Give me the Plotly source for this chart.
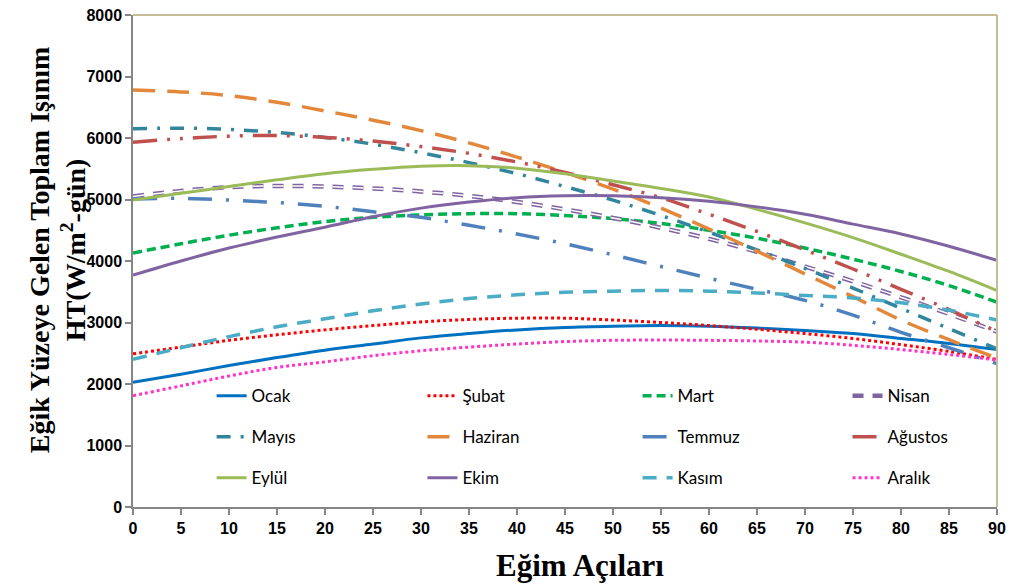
import plotly.graph_objects as go

angles = list(range(0, 91, 5))

ocak    = [2030, 2160, 2300, 2430, 2550, 2650, 2750, 2820, 2880, 2920, 2940, 2950, 2940, 2910, 2870, 2820, 2740, 2660, 2560]
subat   = [2490, 2600, 2710, 2800, 2880, 2950, 3010, 3050, 3070, 3070, 3040, 3000, 2950, 2890, 2820, 2740, 2640, 2530, 2400]
mart    = [4130, 4280, 4420, 4540, 4640, 4710, 4750, 4770, 4770, 4740, 4690, 4610, 4500, 4370, 4210, 4030, 3830, 3600, 3330]
nisan   = [5050, 5140, 5200, 5220, 5210, 5180, 5130, 5060, 4960, 4840, 4700, 4540, 4360, 4150, 3910, 3670, 3410, 3140, 2850]
mayis   = [6150, 6160, 6140, 6090, 6010, 5900, 5760, 5600, 5420, 5210, 4990, 4740, 4470, 4180, 3880, 3560, 3230, 2900, 2570]
haziran = [6780, 6750, 6690, 6580, 6440, 6290, 6120, 5920, 5690, 5440, 5170, 4860, 4520, 4160, 3790, 3420, 3040, 2720, 2420]
temmuz  = [5010, 5020, 4990, 4950, 4890, 4800, 4710, 4580, 4440, 4280, 4100, 3910, 3720, 3540, 3360, 3120, 2840, 2590, 2330]
agustos = [5930, 5990, 6030, 6040, 6010, 5950, 5860, 5750, 5610, 5440, 5240, 5030, 4760, 4480, 4180, 3870, 3540, 3210, 2850]
eylul   = [4990, 5100, 5210, 5320, 5420, 5490, 5540, 5550, 5510, 5420, 5300, 5180, 5040, 4840, 4620, 4380, 4110, 3830, 3520]
ekim    = [3770, 4000, 4210, 4390, 4550, 4720, 4860, 4960, 5030, 5060, 5060, 5030, 4970, 4880, 4760, 4600, 4440, 4240, 4010]
kasim   = [2400, 2590, 2770, 2930, 3060, 3190, 3300, 3390, 3450, 3490, 3510, 3520, 3510, 3480, 3440, 3400, 3320, 3200, 3040]
aralik  = [1810, 1970, 2130, 2270, 2360, 2460, 2540, 2600, 2650, 2690, 2710, 2715, 2710, 2700, 2680, 2630, 2560, 2480, 2390]

names = ["Ocak", "Şubat", "Mart", "Nisan", "Mayıs", "Haziran",
         "Temmuz", "Ağustos", "Eylül", "Ekim", "Kasım", "Aralık"]
series = [ocak, subat, mart, nisan, mayis, haziran, temmuz, agustos, eylul, ekim, kasim, aralik]

styles = {
    "Ocak":    dict(color="#0070C0", dash="solid", width=3),
    "Şubat":   dict(color="#FF0000", dash="dot", width=3),
    "Mart":    dict(color="#00B050", dash="9px,5px", width=3.5),
    "Nisan":   dict(color="#8064A2", dash="11px,9px", width=4.5),
    "Mayıs":   dict(color="#31859C", dash="14px,10px,3px,10px", width=3.5),
    "Haziran": dict(color="#E3883A", dash="22px,12px", width=3.5),
    "Temmuz":  dict(color="#4F81BD", dash="24px,14px,3px,14px", width=3.5),
    "Ağustos": dict(color="#C0504D", dash="24px,10px,3px,10px,3px,10px", width=3.5),
    "Eylül":   dict(color="#9BBB59", dash="solid", width=3),
    "Ekim":    dict(color="#8064A2", dash="solid", width=3),
    "Kasım":   dict(color="#4BACC6", dash="14px,10px", width=3.5),
    "Aralık":  dict(color="#FF33CC", dash="dot", width=3),
}

legend_of = {
    "Ocak": "legend", "Mayıs": "legend", "Eylül": "legend",
    "Şubat": "legend2", "Haziran": "legend2", "Ekim": "legend2",
    "Mart": "legend3", "Temmuz": "legend3", "Kasım": "legend3",
    "Nisan": "legend4", "Ağustos": "legend4", "Aralık": "legend4",
}

fig = go.Figure()
for name, vals in zip(names, series):
    st = styles[name]
    fig.add_trace(go.Scatter(
        x=angles, y=vals, name=name, mode="lines",
        line=dict(color=st["color"], dash=st["dash"], width=st["width"], shape="spline"),
        legend=legend_of[name], legendgroup=name,
    ))
    if name == "Nisan":
        fig.add_trace(go.Scatter(
            x=angles, y=vals, name=name, mode="lines", showlegend=False,
            line=dict(color="white", dash=st["dash"], width=1.5, shape="spline"),
            legendgroup="nisan_inner", hoverinfo="skip",
        ))

leg_font = dict(family="Lato, Noto Sans, sans-serif", size=17, color="#000000")
leg_common = dict(xanchor="left", yanchor="top", y=0.262, bgcolor="rgba(0,0,0,0)",
                  tracegroupgap=16, font=leg_font, itemwidth=30)

tick_font = dict(family="Liberation Sans, Arial, sans-serif", size=16, color="#000000", weight="bold")
ytitle_font = dict(family="Liberation Serif, Times New Roman, serif", size=28, color="#000000", weight="bold")
xtitle_font = dict(family="Liberation Serif, Times New Roman, serif", size=31, color="#000000", weight="bold")

fig.update_layout(
    width=1011, height=585,
    margin=dict(l=133, r=14, t=15, b=78),
    plot_bgcolor="white", paper_bgcolor="white",
    legend=dict(x=0.091, **leg_common),
    legend2=dict(x=0.335, **leg_common),
    legend3=dict(x=0.584, **leg_common),
    legend4=dict(x=0.827, **leg_common),
    xaxis=dict(
        range=[0, 90], dtick=5, tick0=0, showgrid=False, zeroline=False,
        showline=True, linecolor="#868686", linewidth=1.5, automargin=False,
        ticks="outside", ticklen=6, tickcolor="#868686", tickwidth=1.5,
        tickfont=tick_font,
    ),
    yaxis=dict(
        range=[0, 8000], dtick=1000, showgrid=False, zeroline=False,
        showline=True, linecolor="#868686", linewidth=1.5, automargin=False,
        ticks="outside", ticklen=6, tickcolor="#868686", tickwidth=1.5,
        tickfont=tick_font,
    ),
    annotations=[
        dict(text="Eğik Yüzeye Gelen Toplam Işınım<br>HT(W/m<sup>2</sup>-gün)",
             xref="paper", yref="paper", x=0, y=0.522, xshift=-76,
             xanchor="center", yanchor="middle", textangle=-90, showarrow=False,
             font=ytitle_font),
        dict(text="Eğim Açıları",
             xref="paper", yref="paper", x=0.5, y=0, xshift=15, yshift=-58,
             xanchor="center", yanchor="middle", showarrow=False,
             font=xtitle_font),
    ],
    shapes=[
        dict(type="line", xref="paper", yref="paper", x0=0, x1=1, y0=1, y1=1,
             line=dict(color="#C4BD97", width=2)),
        dict(type="line", xref="paper", yref="paper", x0=1, x1=1, y0=0, y1=1,
             line=dict(color="#C4BD97", width=2)),
    ],
)

# remove the browser's default 8px body margin so the figure sits at the page origin
fig.write_html("out.html", config={"displayModeBar": False},
               post_script="document.body.style.margin='0';")
